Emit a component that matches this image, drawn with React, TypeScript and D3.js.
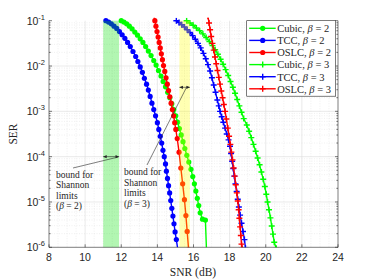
import React from 'react';
import * as d3 from 'd3';

// SNR in dB, SER stored as log10(SER)
const cubic2Snr = [12.0, 12.15, 12.3, 12.45, 12.6, 12.75, 12.9, 13.05, 13.2, 13.35, 13.5, 13.65, 13.8, 13.93, 14.06, 14.2, 14.32, 14.45, 14.57, 14.69, 14.8, 14.91, 15.02, 15.12, 15.22, 15.32, 15.42, 15.52, 15.63, 15.74, 15.86, 15.96, 16.05, 16.13, 16.21, 16.29, 16.37, 16.5, 16.66, 16.74];
const cubic2Log = [-1.0, -1.03, -1.07, -1.12, -1.18, -1.25, -1.32, -1.4, -1.48, -1.57, -1.67, -1.77, -1.88, -1.98, -2.1, -2.22, -2.34, -2.46, -2.58, -2.7, -2.83, -2.96, -3.1, -3.24, -3.38, -3.52, -3.67, -3.82, -3.97, -4.12, -4.28, -4.44, -4.6, -4.76, -4.92, -5.08, -5.24, -5.38, -5.4, -6.3];

const tcc2Snr = [11.15, 11.3, 11.45, 11.6, 11.75, 11.9, 12.05, 12.2, 12.35, 12.5, 12.65, 12.8, 12.92, 13.05, 13.17, 13.28, 13.4, 13.5, 13.6, 13.7, 13.8, 13.9, 14.0, 14.08, 14.16, 14.24, 14.31, 14.38, 14.45, 14.5, 14.56, 14.62, 14.68, 14.74, 14.8, 14.86, 14.92, 14.98, 15.05, 15.15];
const tcc2Log = [-1.0, -1.03, -1.07, -1.12, -1.17, -1.24, -1.31, -1.39, -1.48, -1.57, -1.68, -1.79, -1.9, -2.02, -2.14, -2.27, -2.4, -2.53, -2.67, -2.82, -2.96, -3.1, -3.25, -3.4, -3.55, -3.7, -3.86, -4.0, -4.16, -4.32, -4.48, -4.64, -4.8, -4.97, -5.14, -5.31, -5.48, -5.66, -5.83, -6.1];

const oslc2Snr = [13.8, 13.86, 13.92, 13.98, 14.04, 14.1, 14.16, 14.22, 14.28, 14.34, 14.41, 14.48, 14.55, 14.62, 14.69, 14.76, 14.83, 14.9, 14.96, 15.02, 15.1, 15.2, 15.3, 15.4, 15.5, 15.58, 15.65, 15.73];
const oslc2Log = [-0.85, -1.0, -1.12, -1.24, -1.36, -1.48, -1.6, -1.73, -1.86, -1.99, -2.12, -2.26, -2.4, -2.54, -2.68, -2.82, -2.96, -3.1, -3.25, -3.4, -3.6, -3.9, -4.25, -4.6, -4.95, -5.3, -5.65, -6.05];

const cubic3Snr = [15.62, 15.8, 15.98, 16.16, 16.34, 16.52, 16.7, 16.88, 17.05, 17.2, 17.35, 17.5, 17.64, 17.78, 17.92, 18.05, 18.18, 18.3, 18.42, 18.54, 18.66, 18.78, 18.95, 19.08, 19.2, 19.32, 19.44, 19.55, 19.66, 19.76, 19.86, 19.95, 20.03, 20.1, 20.18, 20.26, 20.33, 20.4, 20.47, 20.58];
const cubic3Log = [-1.0, -1.05, -1.1, -1.16, -1.22, -1.29, -1.37, -1.46, -1.55, -1.64, -1.74, -1.85, -1.96, -2.08, -2.21, -2.34, -2.47, -2.6, -2.74, -2.88, -3.02, -3.16, -3.3, -3.44, -3.58, -3.73, -3.88, -4.03, -4.18, -4.34, -4.5, -4.66, -4.83, -5.0, -5.17, -5.35, -5.53, -5.71, -5.89, -6.02];

const tcc3Snr = [15.05, 15.2, 15.35, 15.5, 15.65, 15.8, 15.95, 16.1, 16.25, 16.4, 16.55, 16.68, 16.8, 16.92, 17.02, 17.12, 17.22, 17.32, 17.4, 17.47, 17.56, 17.65, 17.75, 17.84, 17.94, 18.02, 18.08, 18.14, 18.2, 18.26, 18.32, 18.39, 18.45, 18.51, 18.58, 18.66, 18.74, 18.82, 18.88];
const tcc3Log = [-1.0, -1.04, -1.09, -1.14, -1.2, -1.26, -1.33, -1.41, -1.5, -1.6, -1.72, -1.84, -1.97, -2.11, -2.26, -2.42, -2.58, -2.75, -2.88, -3.0, -3.12, -3.24, -3.37, -3.5, -3.63, -3.77, -3.93, -4.1, -4.26, -4.43, -4.6, -4.77, -4.94, -5.11, -5.29, -5.47, -5.65, -5.83, -6.02];

const oslc3Snr = [16.8, 16.86, 16.92, 16.98, 17.05, 17.12, 17.19, 17.26, 17.33, 17.4, 17.47, 17.54, 17.61, 17.68, 17.75, 17.82, 17.9, 17.97, 18.04, 18.1, 18.16, 18.22, 18.28, 18.34, 18.4, 18.45, 18.5, 18.54, 18.58, 18.62, 18.66, 18.69];
const oslc3Log = [-0.9, -1.05, -1.2, -1.35, -1.5, -1.65, -1.8, -1.95, -2.1, -2.25, -2.4, -2.55, -2.7, -2.85, -3.0, -3.17, -3.37, -3.55, -3.73, -3.9, -4.07, -4.25, -4.43, -4.62, -4.8, -4.98, -5.17, -5.36, -5.55, -5.74, -5.93, -6.02];

const xTicks = [8, 10, 12, 14, 16, 18, 20, 22, 24];
const yExponents = [-1, -2, -3, -4, -5, -6];
const legendLabels = ['Cubic', 'TCC', 'OSLC', 'Cubic', 'TCC', 'OSLC'];
const legendBetas = [2, 2, 2, 3, 3, 3];

const series = [
  { snr: cubic2Snr, log: cubic2Log, color: '#00ff00', marker: 'dot' },
  { snr: tcc2Snr, log: tcc2Log, color: '#0000ff', marker: 'dot' },
  { snr: oslc2Snr, log: oslc2Log, color: '#ff0000', marker: 'dot' },
  { snr: cubic3Snr, log: cubic3Log, color: '#00ff00', marker: 'plus' },
  { snr: tcc3Snr, log: tcc3Log, color: '#0000ff', marker: 'plus' },
  { snr: oslc3Snr, log: oslc3Log, color: '#ff0000', marker: 'plus' },
];

const W = 374, H = 280;
const left = 49, right = 338, top = 20.7, bottom = 247.3;
const serif = '"Liberation Serif", "DejaVu Serif", serif';
const sans = '"Liberation Sans", Arial, sans-serif';
const axisColor = '#262626';

const Marker: React.FC<{ kind: string; x: number; y: number; color: string }> = ({ kind, x, y, color }) =>
  kind === 'dot' ? (
    <circle cx={x} cy={y} r={2.6} fill={color} />
  ) : (
    <path d={`M${x - 3},${y}H${x + 3}M${x},${y - 3}V${y + 3}`} stroke={color} strokeWidth={1.4} />
  );

export default function App() {
  const x = d3.scaleLinear().domain([8, 24]).range([left, right]);
  const y = d3.scaleLog().domain([1e-6, 1e-1]).range([bottom, top]);
  const line = d3.line<[number, number]>().x(d => x(d[0])).y(d => y(Math.pow(10, d[1])));

  const xMinor = d3.range(8, 24.01, 0.5).filter(v => v % 2 !== 0);
  const yMinor: number[] = [];
  yExponents.slice(1).forEach(e => { for (let k = 2; k <= 9; k++) yMinor.push(k * Math.pow(10, e)); });

  const legX = 246.7, legY = 20.7, legW = 89, legH = 75.5, rowH = 12.1;

  return (
    <svg width={W} height={H} style={{ position: 'absolute', left: 0, top: 0, background: '#fff' }}>
      <defs>
        <clipPath id="plot">
          <rect x={left} y={top - 3} width={right - left} height={bottom - top + 3} />
        </clipPath>
      </defs>
      {/* minor grid */}
      <g stroke="#e6e6e6" strokeWidth={0.6} strokeDasharray="1,1.5">
        {xMinor.map(v => <line key={'xm' + v} x1={x(v)} x2={x(v)} y1={top} y2={bottom} />)}
        {yMinor.map(v => <line key={'ym' + v} x1={left} x2={right} y1={y(v)} y2={y(v)} />)}
      </g>
      {/* major grid */}
      <g stroke="#dcdcdc" strokeWidth={0.6}>
        {xTicks.slice(1, -1).map(v => <line key={'xg' + v} x1={x(v)} x2={x(v)} y1={top} y2={bottom} />)}
        {yExponents.slice(1, -1).map(e => <line key={'yg' + e} x1={left} x2={right} y1={y(Math.pow(10, e))} y2={y(Math.pow(10, e))} />)}
      </g>
      {/* curves */}
      <g clipPath="url(#plot)">
        {series.map((s, i) => {
          const pts = s.snr.map((v, j) => [v, s.log[j]] as [number, number]);
          return (
            <g key={i}>
              <path d={line(pts) || ''} fill="none" stroke={s.color} strokeWidth={1.4} />
              {pts.map((p, j) => (
                <Marker key={j} kind={s.marker} x={x(p[0])} y={y(Math.pow(10, p[1]))} color={s.color} />
              ))}
            </g>
          );
        })}
      </g>
      {/* Shannon bound bands */}
      <rect x={x(11)} y={top} width={x(11.88) - x(11)} height={bottom - top} fill="#00e000" opacity={0.3} />
      <rect x={x(15.22)} y={top} width={x(15.8) - x(15.22)} height={bottom - top} fill="#ffff00" opacity={0.3} />
      {/* axes */}
      <g stroke={axisColor} strokeWidth={0.6} fill="none">
        <line x1={left} x2={left} y1={top} y2={bottom} />
        <line x1={left} x2={right} y1={bottom} y2={bottom} />
        <line x1={right} x2={right} y1={top} y2={bottom} />
        {xTicks.map(v => <line key={'xt' + v} x1={x(v)} x2={x(v)} y1={bottom} y2={bottom - 3} />)}
        {yExponents.map(e => (
          <g key={'yt' + e}>
            <line x1={left} x2={left + 3} y1={y(Math.pow(10, e))} y2={y(Math.pow(10, e))} />
            <line x1={right} x2={right - 3} y1={y(Math.pow(10, e))} y2={y(Math.pow(10, e))} />
          </g>
        ))}
        {yMinor.map(v => (
          <g key={'ymt' + v}>
            <line x1={left} x2={left + 1.6} y1={y(v)} y2={y(v)} />
            <line x1={right} x2={right - 1.6} y1={y(v)} y2={y(v)} />
          </g>
        ))}
      </g>
      {/* tick labels */}
      <g fontFamily={sans} fontSize={10.5} fill={axisColor}>
        {xTicks.map(v => (
          <text key={'xl' + v} x={x(v)} y={bottom + 14} textAnchor="middle">{v}</text>
        ))}
        {yExponents.map(e => (
          <text key={'yl' + e} x={left - 4} y={y(Math.pow(10, e)) + 4} textAnchor="end">
            10<tspan dy={-5} fontSize={7.5}>{e}</tspan>
          </text>
        ))}
      </g>
      <text x={193} y={276} textAnchor="middle" fontFamily={serif} fontSize={11.5} fill={axisColor}>SNR (dB)</text>
      <text transform={`translate(17,${(top + bottom) / 2}) rotate(-90)`} textAnchor="middle" fontFamily={serif} fontSize={11.5} fill={axisColor}>SER</text>
      {/* annotations */}
      <g stroke={axisColor} strokeWidth={0.6} fill={axisColor}>
        <line x1={x(11)} x2={x(11.88)} y1={y(1e-4)} y2={y(1e-4)} />
        <path d={`M${x(11)},${y(1e-4)}l3.5,-1.6v3.2z`} stroke="none" />
        <path d={`M${x(11.88)},${y(1e-4)}l-3.5,-1.6v3.2z`} stroke="none" />
        <line x1={73} y1={168} x2={x(11.8)} y2={y(1e-4) + 0.5} />
        <line x1={x(15.22)} x2={x(15.8)} y1={y(Math.pow(10, -2.47))} y2={y(Math.pow(10, -2.47))} />
        <path d={`M${x(15.22)},${y(Math.pow(10, -2.47))}l3.5,-1.6v3.2z`} stroke="none" />
        <path d={`M${x(15.8)},${y(Math.pow(10, -2.47))}l-3.5,-1.6v3.2z`} stroke="none" />
        <line x1={147} y1={165} x2={x(15.6)} y2={y(Math.pow(10, -2.47)) + 0.5} />
      </g>
      <g fontFamily={serif} fontSize={9.5} fill={axisColor}>
        <text x={56} y={177.5}>bound for</text>
        <text x={56} y={188}>Shannon</text>
        <text x={56} y={198.5}>limits</text>
        <text x={56} y={209}>(<tspan fontStyle="italic">β</tspan> = 2)</text>
        <text x={124} y={175}>bound for</text>
        <text x={124} y={185.5}>Shannon</text>
        <text x={124} y={196}>limits</text>
        <text x={124} y={206.5}>(<tspan fontStyle="italic">β</tspan> = 3)</text>
      </g>
      {/* legend */}
      <rect x={legX} y={legY} width={legW} height={legH} fill="#fff" stroke={axisColor} strokeWidth={0.6} />
      {series.map((s, i) => {
        const cy = legY + 7.6 + i * rowH;
        return (
          <g key={'leg' + i}>
            <line x1={legX + 2.5} x2={legX + 29} y1={cy} y2={cy} stroke={s.color} strokeWidth={1.4} />
            <Marker kind={s.marker} x={legX + 16} y={cy} color={s.color} />
            <text x={legX + 30.5} y={cy + 3.8} fontFamily={serif} fontSize={10.5} fill={axisColor}>
              {legendLabels[i]}, <tspan fontStyle="italic">β</tspan> = {legendBetas[i]}
            </text>
          </g>
        );
      })}
    </svg>
  );
}
